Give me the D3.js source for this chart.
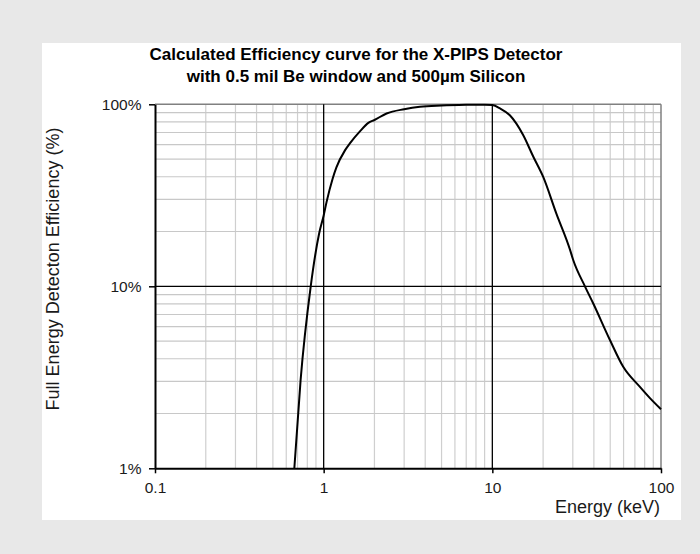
<!DOCTYPE html>
<html>
<head>
<meta charset="utf-8">
<script src="https://cdn.jsdelivr.net/npm/d3@7"></script>
<style>
  body { margin: 0; background: #e8e8e8; }
  svg { display: block; font-family: Arial, "Liberation Sans", sans-serif; }
</style>
</head>
<body>
<svg id="chart" width="700" height="554"></svg>
<script>
// energy (keV) and full energy detection efficiency (%)
energy = [0.67, 0.73, 0.838, 0.94, 1.0, 1.04, 1.13, 1.19, 1.34, 1.43, 1.64, 1.84, 2.0, 2.36, 3.0, 3.72, 5.0, 7.0, 9.0, 10.0, 11.1, 12.7, 15.2, 17.5, 20, 24, 28.8, 30.2, 35.4, 39.6, 49.8, 59.7, 75, 86, 100];
efficiency = [1.0, 3.06, 10, 19.5, 24.5, 29, 39, 45, 56, 61, 71, 79, 82, 89, 94, 97, 98.5, 99.3, 99.5, 99.0, 95, 87, 68, 51.5, 40, 25, 16, 13.9, 10, 8.07, 5.07, 3.61, 2.8, 2.43, 2.11];

xTicks = [0.1, 1, 10, 100];
xTickLabels = ["0.1", "1", "10", "100"];
yTicks = [1, 10, 100];
yTickLabels = ["1%", "10%", "100%"];

titleLines = ["Calculated Efficiency curve for the X-PIPS Detector", "with 0.5 mil Be window and 500\u00b5m Silicon"];

svg = d3.select("#chart");

// white chart panel
svg.append("rect")
  .attr("x", 42).attr("y", 43)
  .attr("width", 639).attr("height", 477)
  .attr("fill", "#fff");

margin = { top: 104.3, left: 155, right: 661, bottom: 468.3 };

x = d3.scaleLog().domain([0.1, 100]).range([margin.left, margin.right]);
y = d3.scaleLog().domain([1, 100]).range([margin.bottom, margin.top]);

// minor grid
minorX = x.ticks().filter(v => !xTicks.some(t => Math.abs(t - v) < 1e-9));
minorY = y.ticks().filter(v => !yTicks.some(t => Math.abs(t - v) < 1e-9));

grid = svg.append("g");
grid.selectAll(".mx").data(minorX).enter().append("line")
  .attr("x1", d => x(d)).attr("x2", d => x(d))
  .attr("y1", margin.top).attr("y2", margin.bottom)
  .attr("stroke", "#cfcfcf").attr("stroke-width", 1.2);
grid.selectAll(".my").data(minorY).enter().append("line")
  .attr("y1", d => y(d)).attr("y2", d => y(d))
  .attr("x1", margin.left).attr("x2", margin.right)
  .attr("stroke", "#c8c8c8").attr("stroke-width", 1.2);

// border top / right in gray
grid.append("line")
  .attr("x1", margin.left).attr("x2", margin.right)
  .attr("y1", y(100)).attr("y2", y(100))
  .attr("stroke", "#808080").attr("stroke-width", 1.5);
grid.append("line")
  .attr("x1", x(100)).attr("x2", x(100))
  .attr("y1", margin.top).attr("y2", margin.bottom)
  .attr("stroke", "#808080").attr("stroke-width", 1.5);

// major grid
grid.selectAll(".gx").data([1, 10]).enter().append("line")
  .attr("x1", d => x(d)).attr("x2", d => x(d))
  .attr("y1", margin.top).attr("y2", margin.bottom)
  .attr("stroke", "#000").attr("stroke-width", 1.3);
grid.selectAll(".gy").data([10]).enter().append("line")
  .attr("y1", d => y(d)).attr("y2", d => y(d))
  .attr("x1", margin.left).attr("x2", margin.right)
  .attr("stroke", "#000").attr("stroke-width", 1.3);

// curve
line = d3.line()
  .x((d, i) => x(energy[i]))
  .y(d => y(d))
  .curve(d3.curveMonotoneX);

svg.append("path")
  .datum(efficiency)
  .attr("d", line)
  .attr("fill", "none")
  .attr("stroke", "#000")
  .attr("stroke-width", 2);

// axes
xAxis = svg.append("g")
  .attr("transform", `translate(0,${margin.bottom})`)
  .call(d3.axisBottom(x).tickValues(xTicks).tickFormat((d, i) => xTickLabels[i]).tickSize(5).tickSizeOuter(0));
yAxis = svg.append("g")
  .attr("transform", `translate(${margin.left},0)`)
  .call(d3.axisLeft(y).tickValues(yTicks).tickFormat((d, i) => yTickLabels[i]).tickSize(6).tickSizeOuter(0));

[xAxis, yAxis].forEach(a => {
  a.select(".domain").attr("stroke", "#000").attr("stroke-width", 2);
  a.selectAll(".tick line").attr("stroke", "#000").attr("stroke-width", 1.5);
  a.selectAll(".tick text").attr("fill", "#1a1a1a").style("font-size", "15.5px").style("font-family", "Arial, 'Liberation Sans', sans-serif");
});
xAxis.selectAll(".tick text").attr("y", 14);
yAxis.selectAll(".tick text").attr("x", -13.5);

// titles
svg.selectAll(".title").data(titleLines).enter().append("text")
  .attr("x", 356).attr("y", (d, i) => 60 + i * 21.7)
  .attr("text-anchor", "middle")
  .style("font-size", "17px").style("font-weight", "bold")
  .attr("fill", "#000")
  .text(d => d);

svg.append("text")
  .attr("x", 660).attr("y", 513)
  .attr("text-anchor", "end")
  .style("font-size", "18px").attr("fill", "#1a1a1a")
  .text("Energy (keV)");

svg.append("text")
  .attr("transform", "translate(59,269) rotate(-90)")
  .attr("text-anchor", "middle")
  .style("font-size", "18px").attr("fill", "#1a1a1a")
  .text("Full Energy Detecton Efficiency (%)");
</script>
</body>
</html>
